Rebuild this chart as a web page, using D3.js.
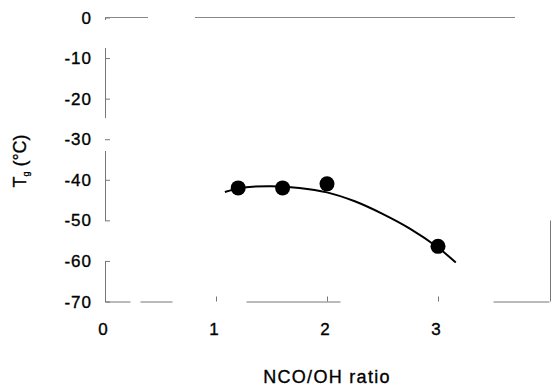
<!DOCTYPE html>
<html>
<head>
<meta charset="utf-8">
<script src="https://cdn.jsdelivr.net/npm/d3@7"></script>
<style>
  body { margin: 0; background: #fff; }
  text { font-family: "Liberation Sans", Arial, sans-serif; fill: #000; stroke: #000; stroke-width: 0.35px; }
</style>
</head>
<body>
<svg width="552" height="388"></svg>
<script>
const width = 552;
const height = 388;

// measured points
const ratio = [1.2, 1.6, 2.0, 3.0];
const tg = [-42, -42, -41, -56.4];

// fitted curve
const curveX = [1.08, 1.25, 1.5, 1.75, 2.0, 2.25, 2.5, 2.75, 3.0, 3.16];
const curveY = [-43.0, -41.9, -41.6, -42.0, -43.1, -45.3, -48.4, -52.1, -56.7, -60.4];

const xTicks = [0, 1, 2, 3];
const yTicks = [0, -10, -20, -30, -40, -50, -60, -70];

const svg = d3.select('svg');

const xScale = d3.scaleLinear()
    .domain([0, 4])
    .range([105, 549]);

const yScale = d3.scaleLinear()
    .domain([-70, 0])
    .range([301.5, 17.5]);

// scanned frame: thin grey lines with gaps
const xAxis = d3.axisBottom(xScale)
    .tickValues(xTicks.slice(1))
    .tickSizeInner(-5)
    .tickSizeOuter(0)
    .tickFormat('');

svg.append('g')
    .attr('transform', `translate(0, ${yScale(-70)})`)
    .call(xAxis)
    .call(g => g.select('.domain').attr('stroke', '#777').attr('stroke-dasharray', '25,10,32,74,94,153,57'))
    .call(g => g.selectAll('.tick line').attr('stroke', '#777'));

const yAxis = d3.axisLeft(yScale)
    .tickValues(yTicks)
    .tickSizeInner(-5)
    .tickSizeOuter(0)
    .tickFormat('');

svg.append('g')
    .attr('transform', `translate(${xScale(0)}, 0)`)
    .call(yAxis)
    .call(g => g.select('.domain').attr('stroke', '#777').attr('stroke-dasharray', '41,40,70,33,70,28,3'))
    .call(g => g.selectAll('.tick line').attr('stroke', '#777'));

svg.append('line')
    .attr('x1', xScale(0))
    .attr('x2', xScale(4))
    .attr('y1', yScale(0))
    .attr('y2', yScale(0))
    .attr('stroke', '#888')
    .attr('stroke-dasharray', '43,47,320,100');

svg.append('line')
    .attr('x1', xScale(4) + 1.5)
    .attr('x2', xScale(4) + 1.5)
    .attr('y1', yScale(-70))
    .attr('y2', yScale(0))
    .attr('stroke', '#777')
    .attr('stroke-dasharray', '81,300');

// tick labels
svg.append('g')
    .selectAll('text')
    .data(xTicks)
    .enter()
    .append('text')
    .attr('x', d => xScale(d) - 2)
    .attr('y', 335)
    .style('text-anchor', 'middle')
    .style('font-size', '17px')
    .text(d => d);

svg.append('g')
    .selectAll('text')
    .data(yTicks)
    .enter()
    .append('text')
    .attr('x', 92)
    .attr('y', d => yScale(d))
    .attr('dy', '0.36em')
    .style('text-anchor', 'end')
    .style('font-size', '17px')
    .style('letter-spacing', '1px')
    .text(d => d);

// axis titles
svg.append('text')
    .attr('x', 327)
    .attr('y', 383)
    .style('text-anchor', 'middle')
    .style('font-size', '18px')
    .style('letter-spacing', '1.3px')
    .text('NCO/OH ratio');

const yTitle = svg.append('text')
    .attr('transform', 'translate(26, 161) rotate(-90)')
    .style('text-anchor', 'middle')
    .style('font-size', '18px');
yTitle.append('tspan').text('T');
yTitle.append('tspan').attr('dy', 3).style('font-size', '9px').text('g');
yTitle.append('tspan').attr('dy', -3).text(' (°C)');

// curve
const line = d3.line()
    .x(d => xScale(d[0]))
    .y(d => yScale(d[1]))
    .curve(d3.curveCatmullRom);

svg.append('path')
    .datum(d3.zip(curveX, curveY))
    .attr('d', line)
    .attr('fill', 'none')
    .attr('stroke', '#000')
    .attr('stroke-width', 2);

svg.append('g')
    .selectAll('circle')
    .data(d3.zip(ratio, tg))
    .enter()
    .append('circle')
    .attr('cx', d => xScale(d[0]))
    .attr('cy', d => yScale(d[1]))
    .attr('r', 7.5)
    .attr('fill', '#000');
</script>
</body>
</html>
